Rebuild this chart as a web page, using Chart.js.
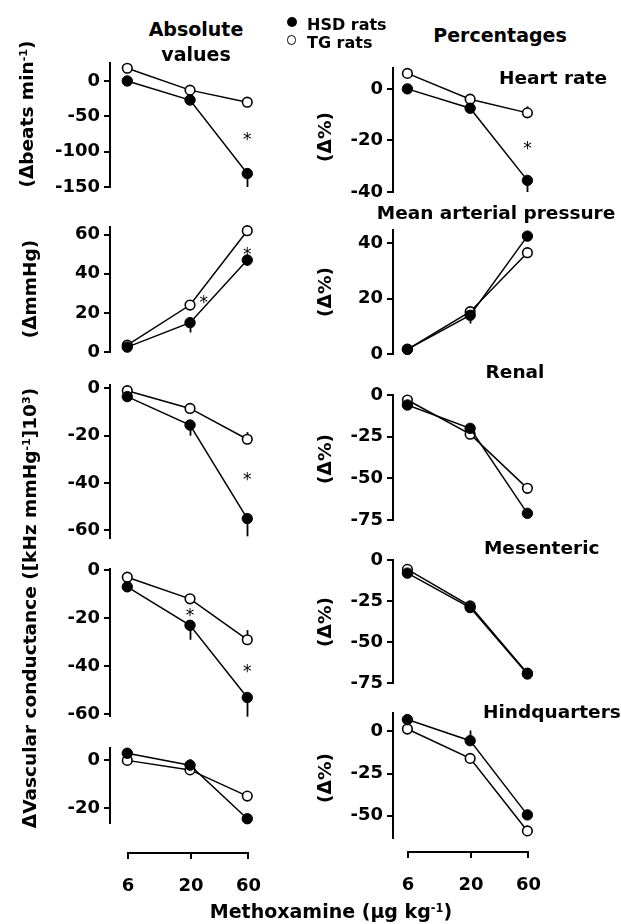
<!DOCTYPE html>
<html><head><meta charset="utf-8">
<script src="https://cdn.jsdelivr.net/npm/chart.js@4.4.1/dist/chart.umd.min.js"></script>
<style>
html,body{margin:0;padding:0;background:#fff}
body{width:621px;height:924px;position:relative;overflow:hidden;font-family:"DejaVu Sans",sans-serif;font-weight:bold;color:#000}
canvas{position:absolute}
.t{position:absolute;white-space:nowrap;line-height:1;z-index:5}
.cx{transform:translate(-50%,-50%)}
.ly{transform:translateY(-50%)}
.rot{transform:translate(-50%,-50%) rotate(-90deg)}
.sup{font-size:0.6em;position:relative;top:-0.55em}
.dot{position:absolute;border-radius:50%;box-sizing:border-box;z-index:5}
</style></head><body>

<div class="t cx" style="left:196px;top:29px;font-size:19px">Absolute</div>
<div class="t cx" style="left:196px;top:54px;font-size:19px">values</div>
<div class="t cx" style="left:500px;top:35px;font-size:19px">Percentages</div>

<div class="dot" style="left:286.7px;top:16.7px;width:10px;height:10px;background:#000"></div>
<div class="dot" style="left:287px;top:35.3px;width:9.4px;height:9.4px;border:1.6px solid #000;background:#fff"></div>
<div class="t ly" style="left:307px;top:25px;font-size:16px">HSD rats</div>
<div class="t ly" style="left:307px;top:43px;font-size:16px">TG rats</div>

<div class="t ly" style="right:14px;top:77.7px;font-size:18.5px">Heart rate</div>
<div class="t cx" style="left:496px;top:213.3px;font-size:18.5px">Mean arterial pressure</div>
<div class="t cx" style="left:515px;top:371.7px;font-size:18.5px">Renal</div>
<div class="t cx" style="left:541.7px;top:548.3px;font-size:18.5px">Mesenteric</div>
<div class="t ly" style="left:483px;top:711.7px;font-size:18.5px">Hindquarters</div>

<div class="t rot" style="left:27px;top:114px;font-size:18.5px">(&Delta;beats min<span class="sup">-1</span>)</div>
<div class="t rot" style="left:30px;top:289px;font-size:18.5px">(&Delta;mmHg)</div>
<div class="t rot" style="left:30px;top:608px;font-size:18.5px">&Delta;Vascular conductance ([kHz mmHg<span class="sup">-1</span>]10<span class="sup">3</span>)</div>
<div class="t rot" style="left:325px;top:136.7px;font-size:18.5px">(&Delta;%)</div>
<div class="t rot" style="left:325px;top:291.7px;font-size:18.5px">(&Delta;%)</div>
<div class="t rot" style="left:325px;top:459px;font-size:18.5px">(&Delta;%)</div>
<div class="t rot" style="left:325px;top:622px;font-size:18.5px">(&Delta;%)</div>
<div class="t rot" style="left:325px;top:778px;font-size:18.5px">(&Delta;%)</div>

<div class="t cx" style="left:331px;top:911px;font-size:19px">Methoxamine (&mu;g kg<span class="sup">-1</span>)</div>

<script>
// ---------- DATA ----------
const doses = [6, 20, 60];
const xTickLabels = ['6', '20', '60'];

// Absolute values
const hrAbsHSD = [0, -27, -131];
const hrAbsTG = [18, -13, -30];
const hrAbsHSDErr = [-2, -3, -19];
const hrAbsTGErr = [0, 0, 6];
const hrAbsStars = [[60, -77]];
const hrAbsTicks = [-150, -100, -50, 0];

const mapAbsHSD = [2.5, 15, 47];
const mapAbsTG = [3.5, 24, 62];
const mapAbsHSDErr = [0, -5, -3];
const mapAbsTGErr = [0, 0, 0];
const mapAbsStars = [[26, 27.5], [60, 52]];
const mapAbsTicks = [0, 20, 40, 60];

const renAbsHSD = [-3.5, -15.5, -55];
const renAbsTG = [-1, -8.5, -21.5];
const renAbsHSDErr = [-1, -4.5, -7.5];
const renAbsTGErr = [0, 0, 3];
const renAbsStars = [[60, -37]];
const renAbsTicks = [-60, -40, -20, 0];

const mesAbsHSD = [-7, -23, -53];
const mesAbsTG = [-3, -12, -29];
const mesAbsHSDErr = [-1, -6, -8];
const mesAbsTGErr = [0, 0, 4];
const mesAbsStars = [[20, -17.5], [60, -40.5]];
const mesAbsTicks = [-60, -40, -20, 0];

const hinAbsHSD = [3, -2, -24.5];
const hinAbsTG = [0, -4, -15];
const hinAbsHSDErr = [0, 2.5, -1];
const hinAbsTGErr = [0, 0, 0];
const hinAbsStars = [];
const hinAbsTicks = [-20, 0];

// Percentages
const hrPctHSD = [0, -7.5, -35.5];
const hrPctTG = [6, -4, -9.3];
const hrPctHSDErr = [0, -1, -4.5];
const hrPctTGErr = [0, 0, 2.5];
const hrPctStars = [[60, -21.8]];
const hrPctTicks = [-40, -20, 0];

const mapPctHSD = [1.7, 14, 42.6];
const mapPctTG = [1.7, 15.3, 36.6];
const mapPctHSDErr = [0, -3, 0];
const mapPctTGErr = [0, 0, 0];
const mapPctStars = [];
const mapPctTicks = [0, 20, 40];

const renPctHSD = [-6, -20, -71];
const renPctTG = [-3, -23.5, -56];
const renPctHSDErr = [0, 0, 0];
const renPctTGErr = [0, 0, 0];
const renPctStars = [];
const renPctTicks = [-75, -50, -25, 0];

const mesPctHSD = [-8, -29, -69.5];
const mesPctTG = [-5.7, -28, -69];
const mesPctHSDErr = [0, -2, -3];
const mesPctTGErr = [0, 0, 0];
const mesPctStars = [];
const mesPctTicks = [-75, -50, -25, 0];

const hinPctHSD = [7, -5.5, -49.5];
const hinPctTG = [1.4, -16, -59];
const hinPctHSDErr = [3, 6, 3];
const hinPctTGErr = [-3, -2, 0];
const hinPctStars = [];
const hinPctTicks = [-50, -25, 0];

// ---------- LAYOUT ----------
const PX_DEC = 125, PLOT_W = 160, AXIS_W = 90, PAD = 15;
const COLS = {
  L: {axisX: 110, x6: 128, xAxisY: 852.7},
  R: {axisX: 393, x6: 408, xAxisY: 851.7}
};
const FONT = 'DejaVu Sans';

const panels = [
  {col:'L', top:62.7, bottom:187, min:-150, max:25.4, hsd:hrAbsHSD, tg:hrAbsTG, he:hrAbsHSDErr, te:hrAbsTGErr, stars:hrAbsStars, ticks:hrAbsTicks},
  {col:'L', top:226.7, bottom:351.7, min:0, max:63.9, hsd:mapAbsHSD, tg:mapAbsTG, he:mapAbsHSDErr, te:mapAbsTGErr, stars:mapAbsStars, ticks:mapAbsTicks},
  {col:'L', top:385, bottom:538, min:-63.2, max:1.4, hsd:renAbsHSD, tg:renAbsTG, he:renAbsHSDErr, te:renAbsTGErr, stars:renAbsStars, ticks:renAbsTicks},
  {col:'L', top:569, bottom:715.7, min:-60.7, max:0.4, hsd:mesAbsHSD, tg:mesAbsTG, he:mesAbsHSDErr, te:mesAbsTGErr, stars:mesAbsStars, ticks:mesAbsTicks},
  {col:'L', top:748.3, bottom:823.3, min:-26.3, max:5.2, hsd:hinAbsHSD, tg:hinAbsTG, he:hinAbsHSDErr, te:hinAbsTGErr, stars:hinAbsStars, ticks:hinAbsTicks},
  {col:'R', top:68.3, bottom:192.7, min:-40, max:8.1, hsd:hrPctHSD, tg:hrPctTG, he:hrPctHSDErr, te:hrPctTGErr, stars:hrPctStars, ticks:hrPctTicks},
  {col:'R', top:230, bottom:354, min:0, max:44.8, hsd:mapPctHSD, tg:mapPctTG, he:mapPctHSDErr, te:mapPctTGErr, stars:mapPctStars, ticks:mapPctTicks},
  {col:'R', top:395, bottom:520, min:-75, max:0, hsd:renPctHSD, tg:renPctTG, he:renPctHSDErr, te:renPctTGErr, stars:renPctStars, ticks:renPctTicks},
  {col:'R', top:560, bottom:683.3, min:-75, max:0, hsd:mesPctHSD, tg:mesPctTG, he:mesPctHSDErr, te:mesPctTGErr, stars:mesPctStars, ticks:mesPctTicks},
  {col:'R', top:713.3, bottom:838.3, min:-63.2, max:10.9, hsd:hinPctHSD, tg:hinPctTG, he:hinPctHSDErr, te:hinPctTGErr, stars:hinPctStars, ticks:hinPctTicks}
];

function makeCanvas(left, top, w, h) {
  const c = document.createElement('canvas');
  c.width = Math.round(w); c.height = Math.round(h);
  c.style.left = left + 'px'; c.style.top = top + 'px';
  c.style.width = Math.round(w) + 'px'; c.style.height = Math.round(h) + 'px';
  document.body.appendChild(c);
  return c;
}

const errStarPlugin = {
  id: 'errStar',
  beforeDatasetsDraw(chart) {
    const ctx = chart.ctx, xs = chart.scales.x, ys = chart.scales.y;
    const errs = chart.options.plugins.errStar.errs;
    ctx.save();
    ctx.strokeStyle = '#000'; ctx.lineWidth = 1.8;
    chart.data.datasets.forEach((ds, di) => {
      ds.data.forEach((p, i) => {
        const e = errs[di][i];
        if (!e) return;
        const px = Math.round(xs.getPixelForValue(p.x)) + 0.5;
        ctx.beginPath();
        ctx.moveTo(px, ys.getPixelForValue(p.y));
        ctx.lineTo(px, ys.getPixelForValue(p.y + e));
        ctx.stroke();
      });
    });
    ctx.restore();
  },
  afterDatasetsDraw(chart) {
    const ctx = chart.ctx, xs = chart.scales.x, ys = chart.scales.y;
    const stars = chart.options.plugins.errStar.stars;
    ctx.save();
    ctx.fillStyle = '#000';
    ctx.font = 'normal 17px "' + FONT + '"';
    ctx.textAlign = 'center'; ctx.textBaseline = 'alphabetic';
    stars.forEach(s => {
      ctx.fillText('*', xs.getPixelForValue(s[0]), ys.getPixelForValue(s[1]) + 9.3);
    });
    ctx.restore();
  }
};

panels.forEach(p => {
  const col = COLS[p.col];
  const left = col.axisX - AXIS_W;
  const top = p.top - PAD;
  const h = (p.bottom - p.top) + 2 * PAD;
  const c = makeCanvas(left, top, AXIS_W + PLOT_W, h);
  const d6 = col.x6 - col.axisX;
  const xMin = 6 / Math.pow(10, d6 / PX_DEC);
  const xMax = 6 * Math.pow(10, (PLOT_W - d6) / PX_DEC);
  const mk = arr => doses.map((d, i) => ({x: d, y: arr[i]}));
  new Chart(c, {
    type: 'line',
    data: {
      datasets: [
        {label: 'HSD rats', data: mk(p.hsd), borderColor: '#000', borderWidth: 1.5,
         pointRadius: 5.2, pointBackgroundColor: '#000', pointBorderColor: '#000', pointBorderWidth: 1,
         fill: false, tension: 0, clip: false},
        {label: 'TG rats', data: mk(p.tg), borderColor: '#000', borderWidth: 1.5,
         pointRadius: 4.8, pointBackgroundColor: '#fff', pointBorderColor: '#000', pointBorderWidth: 1.6,
         fill: false, tension: 0, clip: false}
      ]
    },
    options: {
      responsive: false, animation: false, devicePixelRatio: 1,
      layout: {padding: {top: PAD, bottom: PAD, left: 0, right: 0}},
      plugins: {legend: {display: false}, tooltip: {enabled: false},
                errStar: {errs: [p.he, p.te], stars: p.stars}},
      scales: {
        x: {type: 'logarithmic', display: false, min: xMin, max: xMax, bounds: 'data'},
        y: {type: 'linear', min: p.min, max: p.max, bounds: 'data',
            afterFit: s => { s.width = AXIS_W; },
            afterBuildTicks: s => { s.ticks = p.ticks.map(v => ({value: v})); },
            ticks: {color: '#000', font: {family: FONT, weight: 'bold', size: 18}, padding: 4,
                    callback: v => String(v)},
            grid: {display: true, drawOnChartArea: false, drawTicks: true, tickLength: 6, color: '#000', lineWidth: 2},
            border: {display: true, color: '#000', width: 2}
        }
      }
    },
    plugins: [errStarPlugin]
  });
});

// x axes
['L', 'R'].forEach(k => {
  const col = COLS[k];
  const padX = 25, areaH = 10;
  const c = makeCanvas(col.x6 - padX, col.xAxisY - areaH, PX_DEC + 2 * padX, 70);
  new Chart(c, {
    type: 'line',
    data: {datasets: []},
    options: {
      responsive: false, animation: false, devicePixelRatio: 1,
      layout: {padding: {top: 0, bottom: 0, left: padX, right: padX}},
      plugins: {legend: {display: false}, tooltip: {enabled: false}},
      scales: {
        x: {type: 'logarithmic', min: doses[0], max: doses[doses.length - 1], bounds: 'data', position: 'bottom',
            afterFit: s => { s.height = 60; },
            afterBuildTicks: s => { s.ticks = doses.map(v => ({value: v})); },
            ticks: {color: '#000', font: {family: FONT, weight: 'bold', size: 18}, padding: 17,
                    autoSkip: false, maxRotation: 0, callback: (v, i) => xTickLabels[i]},
            grid: {display: true, drawOnChartArea: false, drawTicks: true, tickLength: 6, color: '#000', lineWidth: 2},
            border: {display: true, color: '#000', width: 2}
        },
        y: {display: false, min: 0, max: 1}
      }
    }
  });
});
</script>
</body></html>
